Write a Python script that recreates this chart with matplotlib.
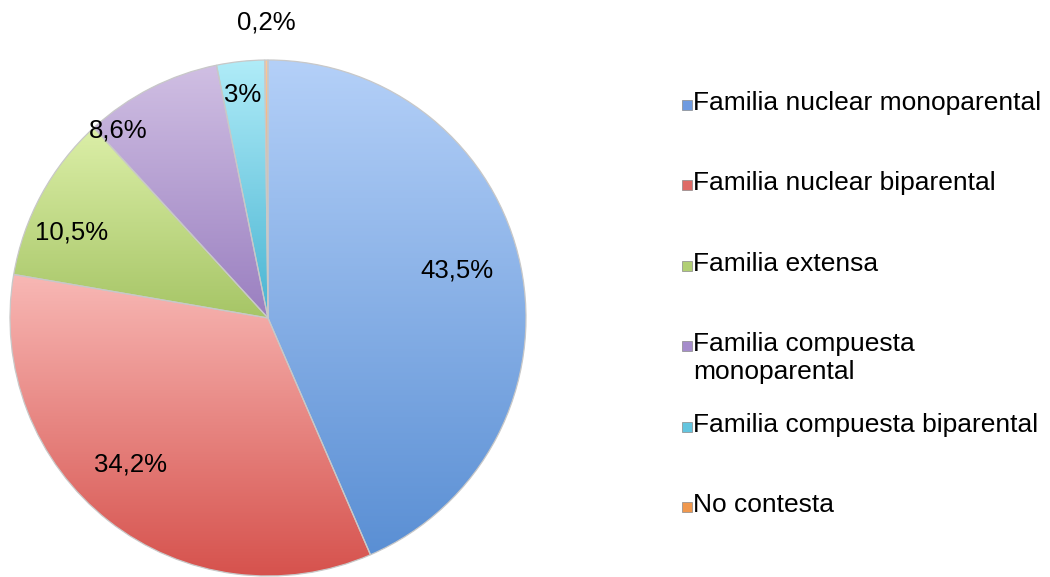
import numpy as np
import matplotlib
matplotlib.use("Agg")
import matplotlib.pyplot as plt
from matplotlib.colors import to_rgb
from matplotlib.patches import Rectangle

plt.rcParams["font.family"] = ["Liberation Sans", "DejaVu Sans"]

CATEGORIES = ["Familia nuclear monoparental", "Familia nuclear biparental",
              "Familia extensa", "Familia compuesta\nmonoparental",
              "Familia compuesta biparental", "No contesta"]
SHARES = [43.5, 34.2, 10.5, 8.6, 3.0, 0.2]
LABELS = ["43,5%", "34,2%", "10,5%", "8,6%", "3%", "0,2%"]

# light (top) -> dark (bottom) shading per slice, roughly what Excel rendered
TOP_COLORS = ["#b4d0f8", "#f8b8b5", "#dcefa8", "#d0bfe3", "#b0ecf8", "#fbc89a"]
BOTTOM_COLORS = ["#5a8fd4", "#d6524d", "#a6c566", "#9a7fc0", "#48b4d2", "#e9873a"]
LEGEND_COLORS = ["#6f9be0", "#de6b67", "#b1cf74", "#a58ccb", "#63c5df", "#f0984d"]
# label placement: radius fraction and angle nudge (deg) off the slice middle
LABEL_DIST = [0.756, 0.78, 0.83, 0.93, 0.87, 1.147]
LABEL_NUDGE = [2.5, -5.0, 5.0, 11.5, 0.3, 0.0]

W, H = 1050, 577
fig = plt.figure(figsize=(W / 100, H / 100), dpi=100)

cx, cy, r = 268, 318, 258
ax = fig.add_axes([(cx - r) / W, (H - cy - r) / H, 2 * r / W, 2 * r / H])

wedges, _ = ax.pie(SHARES, startangle=90, counterclock=False, radius=1,
                   wedgeprops=dict(edgecolor="#c8c8c8", linewidth=0.9))

for w, top, bot in zip(wedges, TOP_COLORS, BOTTOM_COLORS):
    bb = w.get_path().get_extents()
    t = np.linspace(0, 1, 256)[:, None]
    grad = (1 - t) * np.array(to_rgb(top)) + t * np.array(to_rgb(bot))
    grad = grad[:, None, :].repeat(2, axis=1)
    im = ax.imshow(grad, extent=(bb.x0, bb.x1, bb.y0, bb.y1), origin="upper",
                   aspect="auto", zorder=w.get_zorder() - 0.5,
                   interpolation="bilinear")
    im.set_clip_path(w)
    w.set_facecolor("none")

ax.set_xlim(-1, 1)
ax.set_ylim(-1, 1)
ax.axis("off")

# percentage labels near each slice's mid angle
start = 0.0
total = sum(SHARES)
for share, label, dist, nudge in zip(SHARES, LABELS, LABEL_DIST, LABEL_NUDGE):
    mid = 90 - (start + share / 2) / total * 360 + nudge
    start += share
    a = np.deg2rad(mid)
    ax.text(dist * np.cos(a), dist * np.sin(a), label, ha="center",
            va="center", fontsize=18.5, color="black", zorder=5)

# legend, drawn by hand to keep Excel's even slot spacing
for i, (name, col) in enumerate(zip(CATEGORIES, LEGEND_COLORS)):
    yc = 105 + 80.4 * i
    fig.patches.append(Rectangle((682 / W, 1 - (yc + 5) / H), 10 / W, 10 / H,
                                 transform=fig.transFigure, facecolor=col,
                                 edgecolor="#8a8a8a", linewidth=0.5))
    fig.text(693 / W, 1 - (yc - 14) / H, name, ha="left", va="top",
             fontsize=19, linespacing=1.2, color="black")

fig.savefig("out.png", dpi=100)
